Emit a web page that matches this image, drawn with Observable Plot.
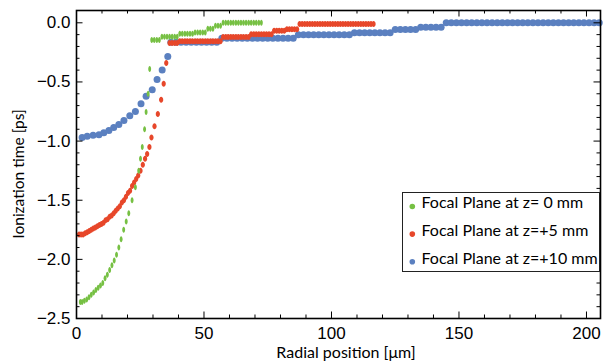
<!DOCTYPE html>
<html><head><meta charset="utf-8">
<script src="https://cdn.jsdelivr.net/npm/d3@7"></script>
<script src="https://cdn.jsdelivr.net/npm/@observablehq/plot@0.6"></script>
<style>
html,body{margin:0;padding:0;background:#fff;}
#wrap{position:relative;width:604px;height:362px;}
</style></head><body><div id="wrap"></div>
<script>
// ---- data ----
const seriesNames = ["Focal Plane at z= 0 mm", "Focal Plane at z=+5 mm", "Focal Plane at z=+10 mm"];
const seriesColors = ["#76c043", "#e7472a", "#5b80c0"];
const xTickLabels = [0, 50, 100, 150, 200];
const yTickLabels = [-2.5, -2.0, -1.5, -1.0, -0.5, 0.0];

const green = [
  [1.5,-2.36],[2.2,-2.36],[3.1,-2.35],[4.0,-2.34],[4.9,-2.32],[5.8,-2.30],[6.7,-2.28],[7.6,-2.26],[8.5,-2.24],[9.4,-2.22],
  [10.3,-2.20],[11.2,-2.16],[12.1,-2.13],[13.0,-2.09],[13.9,-2.05],[14.8,-2.01],[15.7,-1.96],[16.6,-1.90],[17.5,-1.83],[18.5,-1.75],
  [19.5,-1.68],[20.5,-1.61],[21.8,-1.50],[23.1,-1.39],[24.4,-1.25],[25.1,-1.15],[25.8,-1.05],[26.7,-0.90],[27.3,-0.755],[28.1,-0.60],
  [28.7,-0.39],
  [29.5,-0.145],[30.5,-0.145],[31.5,-0.145],[32.5,-0.145],
  [33.5,-0.118],[34.5,-0.118],[35.5,-0.118],[36.5,-0.118],[37.5,-0.118],[38.5,-0.118],[39.5,-0.118],
  [40.5,-0.092],[41.5,-0.092],[42.5,-0.092],[43.5,-0.092],[44.5,-0.092],[45.5,-0.092],
  [46.5,-0.082],[47.5,-0.082],[48.5,-0.082],[49.5,-0.082],[50.5,-0.082],
  [51.5,-0.05],[52.5,-0.05],[53.5,-0.05],
  [54.5,-0.024],[55.5,-0.024],[56.5,-0.024],
  [57.5,0],[58.5,0],[59.5,0],[60.5,0],[61.5,0],[62.5,0],[63.5,0],[64.5,0],[65.5,0],[66.5,0],[67.5,0],[68.5,0],[69.5,0],[70.5,0],[71.5,0],[72.5,0]
];

const red = [
  [1.0,-1.79],[1.8,-1.79],[2.6,-1.79],[3.4,-1.78],[4.2,-1.77],[5.0,-1.76],[5.8,-1.75],[6.6,-1.74],[7.4,-1.73],[8.2,-1.72],
  [9.0,-1.71],[9.8,-1.70],[10.6,-1.69],[11.4,-1.67],[12.2,-1.66],[13.0,-1.64],[13.8,-1.63],[14.6,-1.61],[15.4,-1.59],[16.2,-1.57],
  [17.0,-1.55],[17.8,-1.52],[18.6,-1.50],[19.4,-1.47],[20.2,-1.44],[21.0,-1.42],[21.8,-1.38],[22.6,-1.35],[23.4,-1.32],[24.2,-1.29],
  [25.1,-1.25],[26.0,-1.20],[26.9,-1.15],[27.7,-1.11],[28.6,-1.05],[29.4,-0.97],[30.6,-0.875],[31.9,-0.77],[33.2,-0.65],[34.2,-0.515],
  [35.2,-0.34],
  [36.5,-0.17],[37.5,-0.17],[38.5,-0.17],[39.5,-0.17],
  [40.5,-0.155],[41.5,-0.155],[42.5,-0.155],[43.5,-0.155],[44.5,-0.155],[45.5,-0.155],[46.5,-0.155],[47.5,-0.155],[48.5,-0.155],
  [49.5,-0.155],[50.5,-0.155],[51.5,-0.155],[52.5,-0.155],[53.5,-0.155],[54.5,-0.155],[55.5,-0.155],[56.5,-0.155],
  [57.5,-0.12],[58.5,-0.12],[59.5,-0.12],[60.5,-0.12],[61.5,-0.12],[62.5,-0.12],[63.5,-0.12],[64.5,-0.12],[65.5,-0.12],[66.5,-0.12],[67.5,-0.12],
  [68.5,-0.097],[69.5,-0.097],[70.5,-0.097],[71.5,-0.097],[72.5,-0.097],[73.5,-0.097],[74.5,-0.097],[75.5,-0.097],[76.5,-0.097],
  [77.5,-0.068],[78.5,-0.068],[79.5,-0.068],[80.5,-0.068],[81.5,-0.068],
  [82.5,-0.055],[83.5,-0.055],[84.5,-0.055],[85.5,-0.055],[86.5,-0.055],
  [87.5,-0.01],[88.5,-0.01],[89.5,-0.01],[90.5,-0.01],[91.5,-0.01],[92.5,-0.01],[93.5,-0.01],[94.5,-0.01],[95.5,-0.01],[96.5,-0.01],
  [97.5,-0.01],[98.5,-0.01],[99.5,-0.01],[100.5,-0.01],[101.5,-0.01],[102.5,-0.01],[103.5,-0.01],[104.5,-0.01],[105.5,-0.01],[106.5,-0.01],
  [107.5,-0.01],[108.5,-0.01],[109.5,-0.01],[110.5,-0.01],[111.5,-0.01],[112.5,-0.01],[113.5,-0.01],[114.5,-0.01],[115.5,-0.01],[116.5,-0.01]
];

const blue = [
  [2.2,-0.97],[4.2,-0.96],[6.5,-0.95],[8.8,-0.946],[10.7,-0.93],[12.7,-0.91],[14.6,-0.885],[16.6,-0.86],[18.6,-0.825],[20.9,-0.785],
  [23.1,-0.75],[25.3,-0.685],[27.3,-0.62],[29.7,-0.565],[31.6,-0.48],[33.6,-0.40],[35.8,-0.285],
  [37,-0.165],[39,-0.165],[41,-0.165],[43,-0.165],[45,-0.165],[47,-0.165],[49,-0.165],[51,-0.165],[53,-0.165],[55,-0.165],
  [57,-0.13],[59,-0.13],[61,-0.13],[63,-0.13],[65,-0.13],[67,-0.13],[69,-0.13],[71,-0.13],[73,-0.13],[75,-0.13],[77,-0.13],[79,-0.13],[81,-0.13],[83,-0.13],[85,-0.13],
  [87,-0.10],[89,-0.10],[91,-0.10],[93,-0.10],[95,-0.10],[97,-0.10],[99,-0.10],[101,-0.10],[103,-0.10],[105,-0.10],[107,-0.10],
  [109,-0.085],[111,-0.085],[113,-0.085],[115,-0.085],[117,-0.085],[119,-0.085],[121,-0.085],[123,-0.085],
  [125,-0.057],[127,-0.057],[129,-0.057],[131,-0.057],[133,-0.057],
  [135,-0.037],[137,-0.037],[139,-0.037],[141,-0.037],[143,-0.037],
  [145,0],[147,0],[149,0],[151,0],[153,0],[155,0],[157,0],[159,0],[161,0],[163,0],[165,0],[167,0],[169,0],[171,0],[173,0],[175,0],
  [177,0],[179,0],[181,0],[183,0],[185,0],[187,0],[189,0],[191,0],[193,0],[195,0],[197,0],[199,0],[201,0],[203,0],[205,0]
];

// ---- layout ----
const W = 604, H = 362, mT = 10, mR = 4, mB = 44, mL = 76;
const innerW = W - mL - mR, innerH = H - mT - mB;
const xMinor = d3.range(10, 201, 10).filter(d => d % 50 !== 0);
const yMinor = d3.range(-24, 1, 1).map(d => d / 10).filter(d => Math.round(d * 10) % 5 !== 0);

function ellipse(kx, ky) {
  return {draw(ctx, size) {
    const r = Math.sqrt(size / Math.PI), rx = r * kx, ry = r * ky, k = 0.5523;
    ctx.moveTo(rx, 0);
    ctx.bezierCurveTo(rx, ry * k, rx * k, ry, 0, ry);
    ctx.bezierCurveTo(-rx * k, ry, -rx, ry * k, -rx, 0);
    ctx.bezierCurveTo(-rx, -ry * k, -rx * k, -ry, 0, -ry);
    ctx.bezierCurveTo(rx * k, -ry, rx, -ry * k, rx, 0);
    ctx.closePath();
  }};
}

const tickFont = "'Liberation Sans', Arial, sans-serif";
const plot = Plot.plot({
  width: W, height: H,
  marginTop: mT, marginRight: mR, marginBottom: mB, marginLeft: mL,
  x: {domain: [0, 205.5]},
  y: {domain: [-2.5, 0.104]},
  style: {fontFamily: tickFont, fontSize: "17px", background: "white", color: "black"},
  marks: [
    Plot.dot(blue, {x: d => d[0], y: d => d[1], r: 3.5, fill: seriesColors[2], stroke: "none"}),
    Plot.dot(red, {x: d => d[0], y: d => d[1], r: 3, symbol: ellipse(0.7, 1), fill: seriesColors[1], stroke: "none"}),
    Plot.dot(green, {x: d => d[0], y: d => d[1], r: 3, symbol: ellipse(0.48, 1), fill: seriesColors[0], stroke: "none"}),
    // inward ticks
    Plot.tickX(xMinor, {x: d => d, insetTop: innerH - 3.5, stroke: "black", strokeWidth: 1}),
    Plot.tickX(xTickLabels, {x: d => d, insetTop: innerH - 6.5, stroke: "black", strokeWidth: 1}),
    Plot.tickX(xMinor, {x: d => d, insetBottom: innerH - 3.5, stroke: "black", strokeWidth: 1}),
    Plot.tickX(xTickLabels, {x: d => d, insetBottom: innerH - 6.5, stroke: "black", strokeWidth: 1}),
    Plot.tickY(yMinor, {y: d => d, insetRight: innerW - 3.5, stroke: "black", strokeWidth: 1}),
    Plot.tickY(yTickLabels, {y: d => d, insetRight: innerW - 6.5, stroke: "black", strokeWidth: 1}),
    Plot.tickY(yMinor, {y: d => d, insetLeft: innerW - 3.5, stroke: "black", strokeWidth: 1}),
    Plot.tickY(yTickLabels, {y: d => d, insetLeft: innerW - 6.5, stroke: "black", strokeWidth: 1}),
    Plot.frame({stroke: "black", strokeWidth: 1.6}),
    Plot.axisX(xTickLabels, {tickSize: 0, tickPadding: 8, label: null, fontSize: 17}),
    Plot.axisY(yTickLabels, {tickSize: 0, tickPadding: 6, label: null, fontSize: 17, tickFormat: d3.format(".1f")})
  ]
});

document.getElementById("wrap").appendChild(plot);
const svg = d3.select(plot);
const titleFont = "Lato, 'Open Sans', sans-serif";
svg.append("text").attr("x", 346).attr("y", 358).attr("text-anchor", "middle")
  .style("font-family", titleFont).style("font-size", "16px").attr("fill", "black")
  .text("Radial position [μm]");
svg.append("text").attr("transform", "translate(24,174) rotate(-90)").attr("text-anchor", "middle")
  .style("font-family", titleFont).style("font-size", "15.5px").attr("fill", "black")
  .text("Ionization time [ps]");

// legend
const lg = svg.append("g");
lg.append("rect").attr("x", 402.5).attr("y", 192.5).attr("width", 197).attr("height", 79)
  .attr("fill", "white").attr("stroke", "#222").attr("stroke-width", 1);
seriesNames.forEach((name, i) => {
  const yb = 208.3 + i * 27.6;
  lg.append("circle").attr("cx", 412.3).attr("cy", yb - 1.8).attr("r", 2.8).attr("fill", seriesColors[i]);
  lg.append("text").attr("x", 421.5).attr("y", yb).attr("text-anchor", "start")
    .style("font-family", titleFont).style("font-size", "16px").attr("fill", "black").text(name);
});
</script></body></html>
